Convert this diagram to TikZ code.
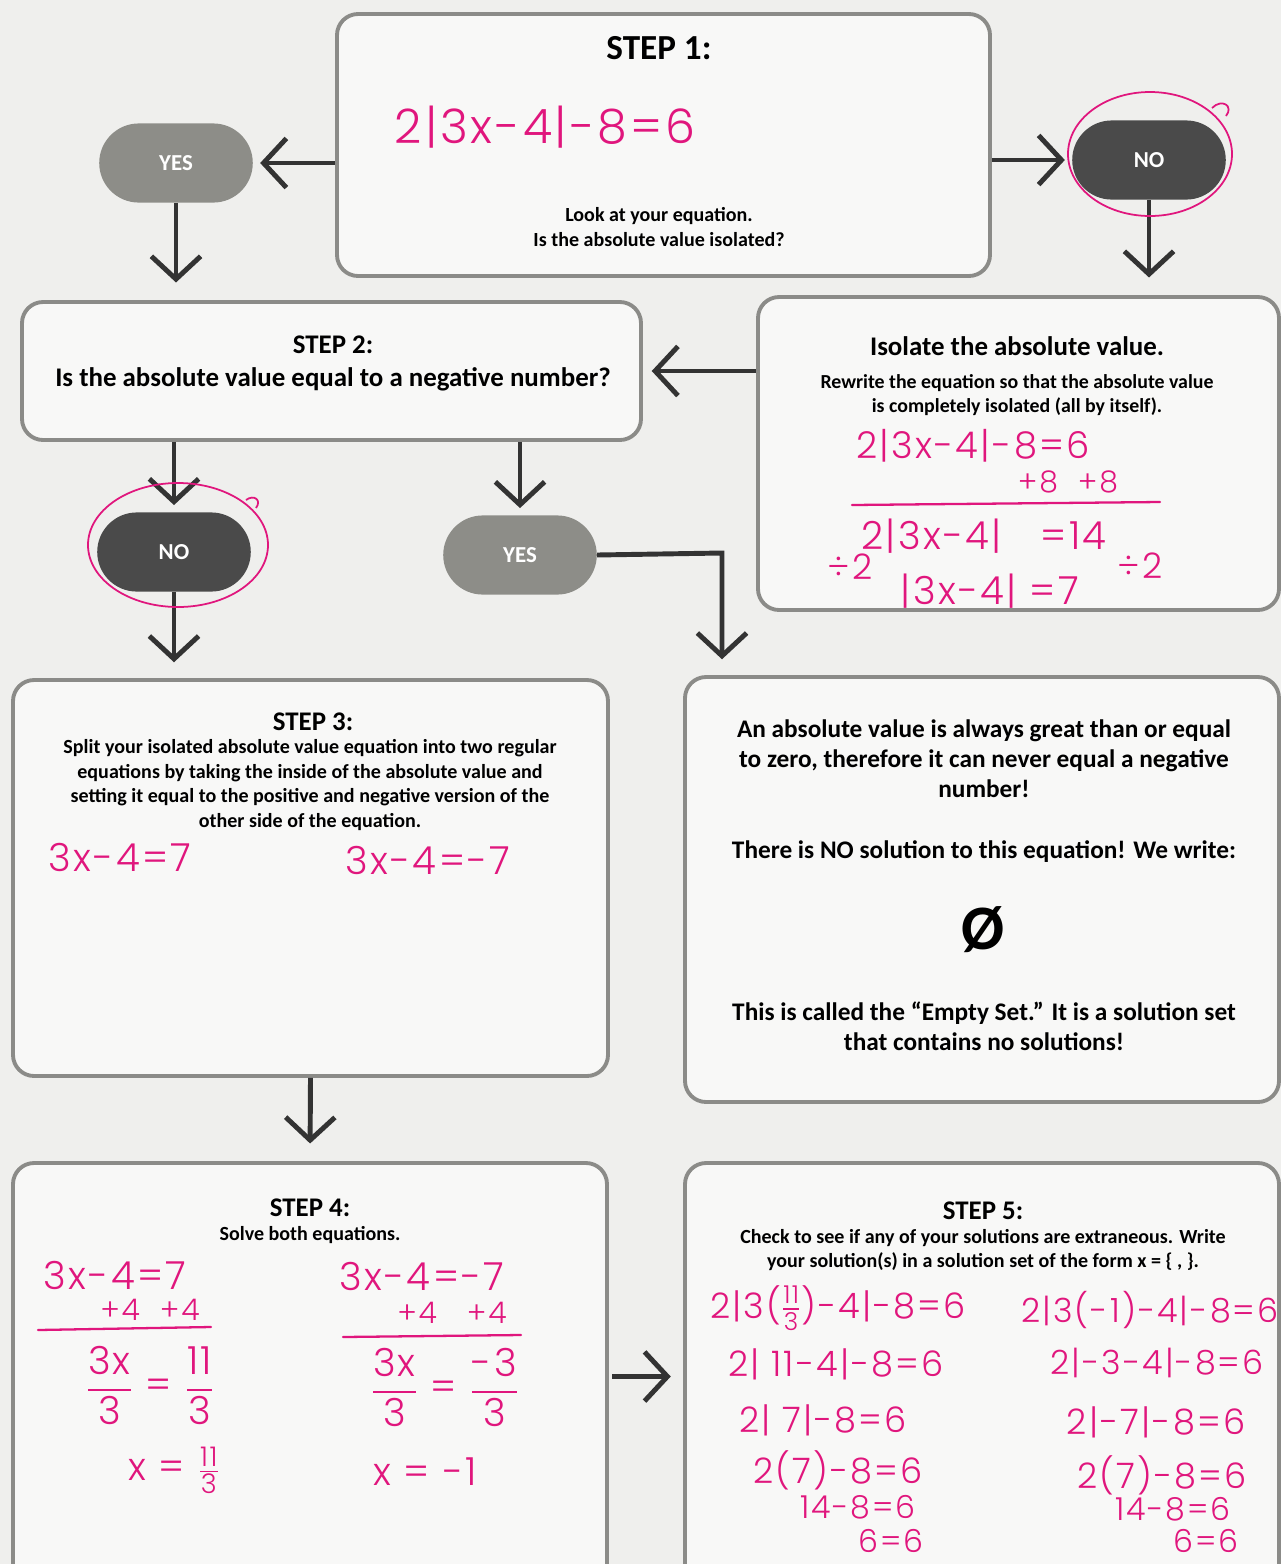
\documentclass[tikz,border=0pt]{standalone}
\usepackage{fontspec}
\usepackage{amsmath}
\setmainfont{Carlito}
\newfontfamily\hand{Poppins Light}[LetterSpace=6]
\usetikzlibrary{arrows.meta,shapes.misc,fit}

\definecolor{paper}{HTML}{EFEFED}
\definecolor{boxfill}{HTML}{F8F8F7}
\definecolor{boxline}{HTML}{8B8B88}
\definecolor{yesfill}{HTML}{8D8D88}
\definecolor{nofill}{HTML}{4A4A4A}
\definecolor{arrowcol}{HTML}{333333}
\definecolor{ink}{HTML}{E0167D}

% handwritten fractions
\newcommand\bigfrac[2]{$\genfrac{}{}{1pt}{0}{\text{#1}}{\text{#2}}$}
\newcommand\smallfrac[2]{$\genfrac{}{}{0.7pt}{}{\text{#1}}{\text{#2}}$}

\tikzset{
  stepbox/.style={draw=boxline,fill=boxfill,line width=2.2pt,rounded corners=12pt,inner sep=0pt},
  pill/.style={rounded rectangle,minimum width=94pt,minimum height=45pt,text=white,
    font=\bfseries\fontsize{13}{15}\selectfont},
  yespill/.style={pill,fill=yesfill},
  nopill/.style={pill,fill=nofill},
  flow/.style={draw=arrowcol,line width=2.8pt,-{Straight Barb[length=13pt,width=28pt]}},
  steptitle/.style={font=\bfseries\fontsize{15.3}{18.8}\selectfont,align=center},
  body/.style={font=\bfseries\fontsize{#1}{#1}\selectfont,align=center},
  body/.default=11,
  hw/.style={text=ink,inner sep=1pt,font=\hand\fontsize{#1}{#1}\selectfont},
  hw/.default=22,
  stroke/.style={draw=ink,line width=1.3pt,line cap=round},
  circ/.style={draw=ink,line width=1pt}
}

\begin{document}
\begin{tikzpicture}[x=0.5687pt,y=-0.5687pt]
  \path[use as bounding box,fill=paper] (0,0) rectangle (1281,1564);

  % boxes
  \node[stepbox,fit={(337,14) (990,276)}] (s1) {};
  \node[stepbox,fit={(22,302) (641,440)}] (s2) {};
  \node[stepbox,fit={(758,297) (1279,610)}] (iso) {};
  \node[stepbox,fit={(13,680) (608,1076)}] (s3) {};
  \node[stepbox,fit={(685,677) (1279,1102)}] (es) {};
  \node[stepbox,fit={(13,1163) (607,1590)}] (s4) {};
  \node[stepbox,fit={(685,1163) (1279,1590)}] (s5) {};

  % yes / no pills
  \node[yespill] (yes1) at (176,163) {YES};
  \node[nopill] (no1) at (1149,160) {NO};
  \node[nopill] (no2) at (174,552) {NO};
  \node[yespill] (yes2) at (520,555) {YES};

  % connectors
  \draw[flow,shorten >=4pt] (s1.west |- yes1.east) -- (yes1.east);
  \draw[flow,shorten >=4pt] (s1.east |- no1.west) -- (no1.west);
  \draw[flow,shorten >=10pt] (yes1.south) -- (yes1.south |- s2.north);
  \draw[flow,shorten >=10pt] (no1.south) -- (no1.south |- iso.north);
  \draw[flow,shorten >=5pt] (iso.west |- s2.east) -- (s2.east);
  \draw[flow,shorten >=4pt] (s2.south -| no2.north) -- (no2.north);
  \draw[flow,shorten >=4pt] (s2.south -| yes2.north) -- (yes2.north);
  \draw[flow,shorten >=9pt] (no2.south) -- (no2.south |- s3.north);
  \coordinate (turn) at (722,553);
  \draw[flow,shorten >=9pt] (yes2.east) -- (turn) -- (turn |- es.north);
  \draw[flow,shorten >=10pt] (s3.south) -- (s4.north);
  \draw[flow,shorten <=2pt,shorten >=7pt] (s4.east) -- (s5.west);

  % step 1
  \node[font=\bfseries\fontsize{20}{24}\selectfont] (t1) at (659,48) {STEP 1:};
  \node[hw=27] (e1) at (545,127) {2|3x-4|-8=6};
  \node[align=center,font=\bfseries\fontsize{11.4}{13.7}\selectfont] (q1) at (659,227)
    {Look at your equation.\\Is the absolute value isolated?};

  % step 2
  \node[steptitle] (t2) at (333,363)
    {STEP 2:\\Is the absolute value equal to a negative number?};

  % isolate
  \node[steptitle] (ti) at (1017,346) {Isolate the absolute value.};
  \node[align=center,font=\bfseries\fontsize{11.3}{13.6}\selectfont] (qi) at (1017,395)
    {Rewrite the equation so that the absolute value\\is completely isolated (all by itself).};
  \node[hw=21] (i1) at (973,446) {2|3x-4|-8=6};
  \node[hw=17] (i2) at (1068,482) {+8\ \ +8};
  \draw[stroke] (852,505) -- (1160,502);
  \node[hw=22] (i3) at (984,536) {2|3x-4|\ \ \ =14};
  \node[hw=20] (i4) at (850,567) {÷2};
  \node[hw=20] (i5) at (1140,566) {÷2};
  \node[hw=22] (i6) at (990,591) {|3x-4|\ =7};

  % step 3
  \node[steptitle] (t3) at (313,722) {STEP 3:};
  \node[align=center,font=\bfseries\fontsize{11.4}{13.9}\selectfont] (q3) at (310,785)
    {Split your isolated absolute value equation into two regular\\
     equations by taking the inside of the absolute value and\\
     setting it equal to the positive and negative version of the\\
     other side of the equation.};
  \node[hw=22] (a3) at (120,857) {3x-4=7};
  \node[hw=22] (b3) at (428,860) {3x-4=-7};

  % empty set
  \node[align=center,font=\bfseries\fontsize{14.4}{17}\selectfont] (p1) at (984,759)
    {An absolute value is always great than or equal\\
     to zero, therefore it can never equal a negative\\
     number!};
  \node[body=14.4] (p2) at (984,852) {There is NO solution to this equation! We write:};
  \node[font=\bfseries\fontsize{36}{40}\selectfont] (phi) at (983,930) {Ø};
  \node[align=center,font=\bfseries\fontsize{14.4}{17}\selectfont] (p3) at (984,1026)
    {This is called the “Empty Set.” It is a solution set\\
     that contains no solutions!};

  % step 4
  \node[steptitle] (t4) at (310,1208) {STEP 4:};
  \node[body=11.4] (q4) at (310,1235) {Solve both equations.};
  \node[hw=22] (a4) at (115,1275) {3x-4=7};
  \node[hw=17] (a5) at (150,1310) {+4\ \ +4};
  \draw[stroke] (38,1330) -- (211,1327);
  \node[hw=22] (a6) at (150,1385) {\bigfrac{3x}{3} = \bigfrac{11}{3}};
  \node[hw=22] (a7) at (174,1470) {x = \smallfrac{11}{3}};
  \node[hw=22] (b4) at (422,1276) {3x-4=-7};
  \node[hw=17] (b5) at (452,1313) {+4\ \ \ +4};
  \draw[stroke] (343,1337) -- (521,1335);
  \node[hw=22] (b6) at (445,1387) {\bigfrac{3x}{3} = \bigfrac{-3}{3}};
  \node[hw=22] (b7) at (425,1472) {x = -1};

  % step 5
  \node[steptitle] (t5) at (983,1211) {STEP 5:};
  \node[align=center,font=\bfseries\fontsize{11.4}{14}\selectfont] (q5) at (983,1250)
    {Check to see if any of your solutions are extraneous. Write\\
     your solution(s) in a solution set of the form x = \{ , \}.};
  \node[hw=20] (c1) at (838,1308) {2|3(\smallfrac{11}{3})-4|-8=6};
  \node[hw=20] (c2) at (836,1364) {2|\ 11-4|-8=6};
  \node[hw=20] (c3) at (823,1420) {2|\ 7|-8=6};
  \node[hw=20] (c4) at (838,1470) {2(7)-8=6};
  \node[hw=18] (c5) at (858,1507) {14-8=6};
  \node[hw=18] (c6) at (891,1541) {6=6};
  \node[hw=19] (d1) at (1150,1310) {2|3(-1)-4|-8=6};
  \node[hw=19] (d2) at (1157,1363) {2|-3-4|-8=6};
  \node[hw=20] (d3) at (1156,1422) {2|-7|-8=6};
  \node[hw=20] (d4) at (1162,1475) {2(7)-8=6};
  \node[hw=18] (d5) at (1173,1509) {14-8=6};
  \node[hw=18] (d6) at (1206,1541) {6=6};

  % pink circles round the chosen answers
  \draw[circ] (1150,154) ellipse [x radius=82, y radius=62];
  \draw[circ] (1212,108) .. controls (1222,98) and (1234,106) .. (1226,116);
  \draw[circ] (178,545) ellipse [x radius=90, y radius=62];
  \draw[circ] (246,500) .. controls (254,494) and (262,500) .. (256,508);
\end{tikzpicture}
\end{document}
